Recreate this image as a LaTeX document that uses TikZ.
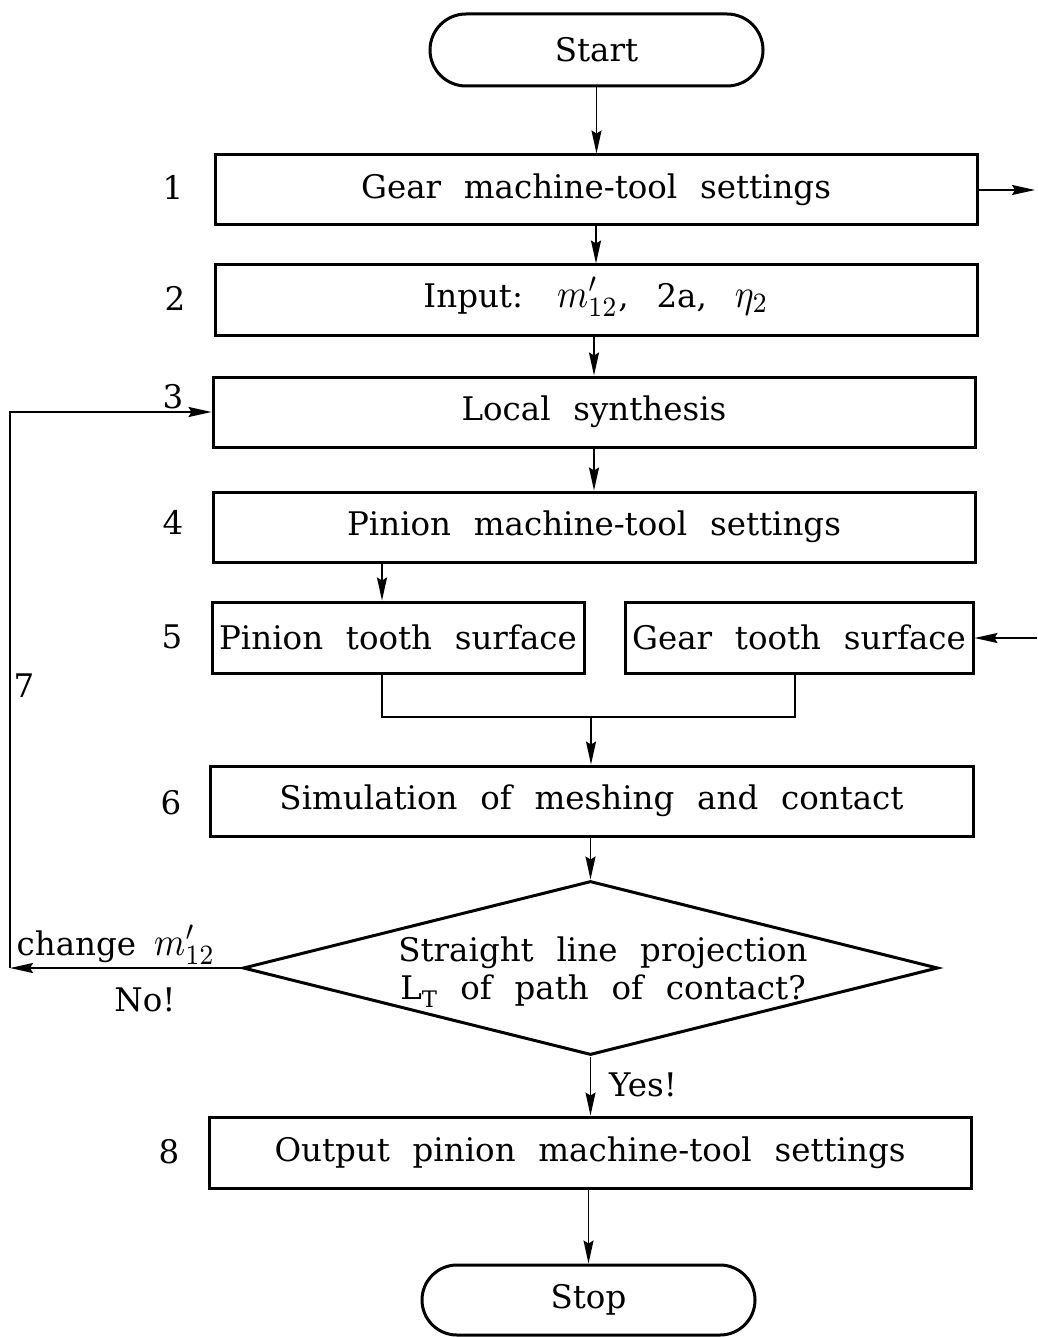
\documentclass[tikz,border=0pt]{standalone}
\usepackage{graphicx}
\usepackage{fontspec}
\setmainfont{DejaVu Serif}
\usetikzlibrary{arrows.meta,shapes.geometric}
\newcommand{\flowfont}{\fontsize{32.5}{38}\selectfont\spaceskip 0.7em\relax}
\newcommand{\bigmath}[1]{\scalebox{3.55}[4.0]{\fontsize{10}{12}\selectfont$#1$}}
\begin{document}
\begin{tikzpicture}[x=1pt,y=-1pt,
  every node/.style={font=\flowfont},
  box/.style={draw,line width=3pt,minimum width=762pt,minimum height=70pt,inner sep=0pt},
  term/.style={draw,line width=3pt,minimum width=333pt,minimum height=72pt,rounded corners=36pt,inner sep=0pt},
  conn/.style={line width=1.8pt},
  arr/.style={conn,-{Stealth[length=23pt,width=10pt,inset=3pt]}},
  lbl/.style={inner sep=0pt}]
\useasboundingbox (0,0) rectangle (1037,1337);
% nodes
\node[term] (start) at (596.5,50) {Start};
\node[box] (b1) at (596,190) {Gear machine-tool settings};
\node[box,text height=24pt,text depth=10pt] (b2) at (596,300) {Input:\hspace{34pt}\bigmath{m'_{12}},\hspace{28pt}2a,\hspace{28pt}\bigmath{\eta_2}};
\node[box] (b3) at (594,412) {Local synthesis};
\node[box] (b4) at (594,527) {Pinion machine-tool settings};
\node[box,minimum width=372pt,minimum height=71pt] (b5a) at (398,637.5) {Pinion tooth surface};
\node[box,minimum width=348pt,minimum height=71pt] (b5b) at (799,637.5) {Gear tooth surface};
\node[box,minimum width=763pt] (b6) at (591.5,801) {Simulation of meshing and contact};
\node[draw,diamond,line width=3pt,aspect=4,minimum width=695pt,minimum height=174pt,inner sep=0pt] (dia) at (590.5,968) {};
\node[align=center,inner sep=0pt] (diatext) at (603,972)
      {Straight line projection\\L\textsubscript{T} of path of contact?};
\node[box,minimum height=71pt] (b8) at (590,1152.5) {Output pinion machine-tool settings};
\node[term,minimum height=70pt,rounded corners=35pt] (stop) at (588.5,1300) {Stop};
% step labels
\node[lbl] (n1) at (173,187) {1};
\node[lbl] (n2) at (175,298) {2};
\node[lbl] (n3) at (173,397) {3};
\node[lbl] (n4) at (173,522) {4};
\node[lbl] (n5) at (172,637) {5};
\node[lbl] (n6) at (171,803) {6};
\node[lbl] (n7) at (24,686) {7};
\node[lbl] (n8) at (169,1152) {8};
\node[lbl,anchor=base] (chg) at (116,955) {change\hspace{18pt}\bigmath{m'_{12}}};
\node[lbl] (no) at (145,1000) {No!};
\node[lbl,anchor=west] (yes) at (609,1085) {Yes!};
% coordinates
\coordinate (out1) at (1035,190);
\coordinate (in5) at (1037,638);
\coordinate (ja) at (382,717);
\coordinate (jb) at (795,717);
\coordinate (jm) at (591,717);
\coordinate (c7a) at (10,968);
\coordinate (c7b) at (10,412);
% connectors
\draw[arr] (start.south) -- (b1.north -| start.south);
\draw[arr] (b1.south) -- (b2.north);
\draw[arr] (b3.north |- b2.south) -- (b3.north);
\draw[arr] (b3.south) -- (b4.north);
\draw[arr] (b1.east) -- (out1);
\draw[arr] (in5) -- (b5b.east |- in5);
\draw[arr] (b4.south -| ja) -- (b5a.north -| ja);
\draw[conn] (b5a.south -| ja) -- (ja) -- (jb) -- (b5b.south -| jb);
\draw[arr] (jm) -- (b6.north -| jm);
\draw[arr] (b6.south -| dia.north) -- (dia.north);
\draw[arr] (dia.west) -- (c7a);
\draw[arr] (c7a) -- (c7b) -- (b3.west |- c7b);
\draw[arr] (dia.south) -- (b8.north -| dia.south);
\draw[arr] (b8.south -| stop.north) -- (stop.north);
\end{tikzpicture}
\end{document}
